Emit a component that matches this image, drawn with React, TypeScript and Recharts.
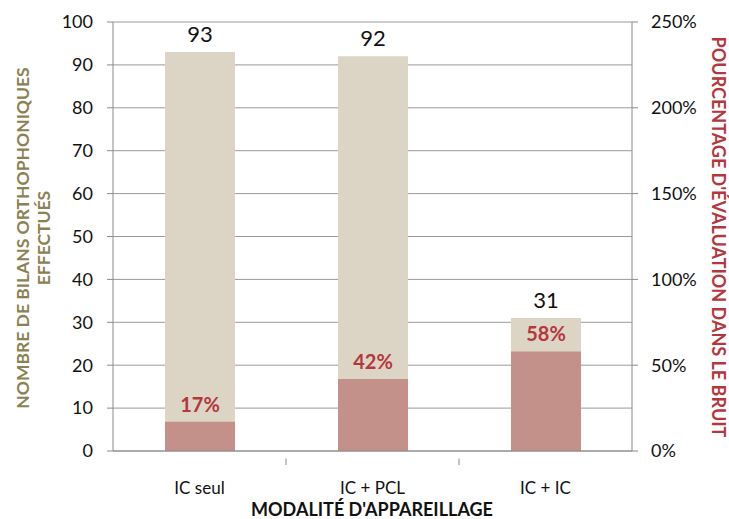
import { BarChart, Bar, XAxis, YAxis, CartesianGrid, LabelList } from "recharts";

const FONT = "Lato, 'Open Sans', sans-serif";

const categories = ["IC seul", "IC + PCL", "IC + IC"];
const bilans = [93, 92, 31];
const bruitPct = [17, 42, 58];
const leftTicks = [0, 10, 20, 30, 40, 50, 60, 70, 80, 90, 100];
const rightTicks = [0, 50, 100, 150, 200, 250];

const data = categories.map((modalite, i) => ({
  modalite,
  bilans: bilans[i],
  bruit: bruitPct[i],
}));

const W = 729;
const H = 519;
const PLOT_LEFT = 113;
const PLOT_RIGHT = 632;
const BAND = (PLOT_RIGHT - PLOT_LEFT) / categories.length;

const GRID = "#9a9a9a";
const AXIS = "#8a8a8a";
const OLIVE = "#8a8252";
const RED = "#b4373d";

function CategoryTick(props: any) {
  const { x, y, payload, index } = props;
  return (
    <g>
      <text x={x} y={y + 35} textAnchor="middle" fontFamily={FONT} fontSize={17} fill="#111">
        {payload.value}
      </text>
      {index < categories.length - 1 && (
        <line x1={x + BAND / 2} x2={x + BAND / 2} y1={y - 0.5} y2={y + 6} stroke={AXIS} />
      )}
    </g>
  );
}

export default function App() {
  return (
    <div style={{ position: "absolute", left: 0, top: 0, width: W, height: H, background: "#fff" }}>
      <BarChart
        width={W}
        height={H}
        data={data}
        margin={{ top: 22, right: 0, left: 0, bottom: 0 }}
        barGap={-70}
      >
        <CartesianGrid yAxisId="left" vertical={false} stroke={GRID} />
        <XAxis
          dataKey="modalite"
          height={68}
          axisLine={{ stroke: AXIS }}
          tickLine={false}
          tick={<CategoryTick />}
          interval={0}
          label={{
            content: () => (
              <text x={372} y={516} textAnchor="middle" fontFamily={FONT} fontWeight={700} fontSize={18} fill="#111">
                MODALITÉ D'APPAREILLAGE
              </text>
            ),
          }}
        />
        <YAxis
          yAxisId="left"
          orientation="left"
          width={113}
          domain={[0, 100]}
          ticks={leftTicks}
          interval={0}
          axisLine={{ stroke: AXIS }}
          tickLine={{ stroke: AXIS }}
          tickSize={6}
          tickMargin={14}
          tick={{ fill: "#111", fontSize: 18, fontFamily: FONT }}
          label={{
            content: () => (
              <g transform="translate(0,238) rotate(-90)" fontFamily={FONT} fontWeight={700} fontSize={17.5} fill={OLIVE}>
                <text x={0} y={29} textAnchor="middle">NOMBRE DE BILANS ORTHOPHONIQUES</text>
                <text x={0} y={50} textAnchor="middle">EFFECTUÉS</text>
              </g>
            ),
          }}
        />
        <YAxis
          yAxisId="right"
          orientation="right"
          width={97}
          domain={[0, 250]}
          ticks={rightTicks}
          interval={0}
          axisLine={{ stroke: AXIS }}
          tickLine={{ stroke: AXIS }}
          tickSize={6}
          tickMargin={13}
          tickFormatter={(v: number) => `${v}%`}
          tick={{ fill: "#111", fontSize: 18, fontFamily: FONT, textAnchor: "start" }}
          label={{
            content: () => (
              <text
                transform="translate(712,237) rotate(90)"
                textAnchor="middle"
                fontFamily={FONT}
                fontWeight={700}
                fontSize={18}
                fill={RED}
              >
                POURCENTAGE D'ÉVALUATION DANS LE BRUIT
              </text>
            ),
          }}
        />
        <Bar yAxisId="left" dataKey="bilans" fill="#dcd4c5" barSize={70} isAnimationActive={false}>
          <LabelList dataKey="bilans" position="top" offset={10} fill="#111" fontSize={22} fontFamily={FONT} />
        </Bar>
        <Bar yAxisId="right" dataKey="bruit" fill="#c4918a" barSize={70} isAnimationActive={false}>
          <LabelList
            dataKey="bruit"
            position="top"
            offset={10}
            fill={RED}
            fontSize={20}
            fontWeight={700}
            fontFamily={FONT}
            formatter={(v: any) => `${v}%`}
          />
        </Bar>
      </BarChart>
    </div>
  );
}
